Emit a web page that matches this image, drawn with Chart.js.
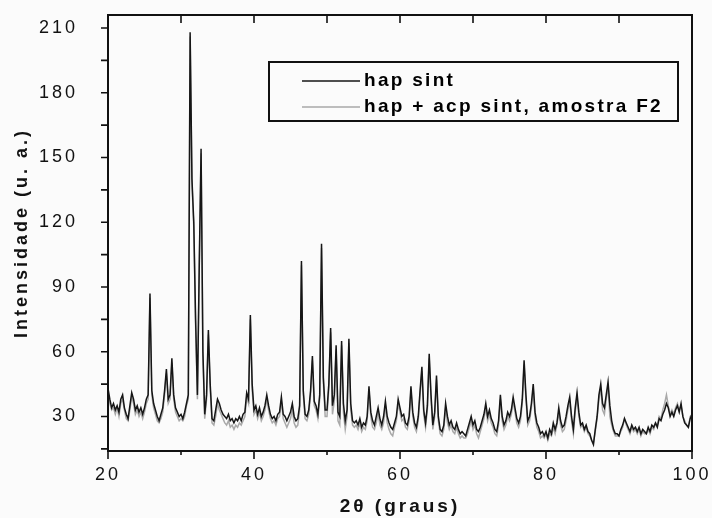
<!DOCTYPE html>
<html>
<head>
<meta charset="utf-8">
<script src="https://cdn.jsdelivr.net/npm/chart.js@4.4.1/dist/chart.umd.min.js"></script>
<style>
html, body { margin: 0; padding: 0; background: #fbfbfb; }
#caja { width: 712px; height: 518px; }
</style>
</head>
<body>
<div id="caja"><canvas id="graficoDRX" width="712" height="518"></canvas></div>
<script>
// Difratograma: 2θ de 20 a 100 graus, passo 0.25
const anguloInicial = 20;
const passoAngulo = 0.25;

// hap sint (preto)
const hapSint = [
  43,38,34,36,33,35,32,38,40,34,31,29,35,41,38,33,35,32,34,31, // 20
  34,38,40,87,42,36,33,30,28,31,34,42,52,38,40,57,40,34,32,30, // 25
  31,29,32,36,40,208,140,120,75,40,100,154,60,31,40,70,45,29,28,33, // 30
  38,36,33,31,30,29,31,28,29,27,29,28,30,28,31,32,41,38,77,45, // 35
  33,35,31,34,30,32,35,40,35,31,29,30,28,31,32,39,31,30,28,30, // 40
  32,36,30,28,29,35,102,42,31,30,33,42,58,37,35,31,40,110,48,33, // 45
  33,45,71,35,40,63,32,30,65,36,28,33,66,36,28,27,28,26,29,25, // 50
  27,26,30,44,32,28,26,30,34,29,26,30,37,30,27,25,24,27,30,38, // 55
  34,30,31,27,26,30,44,32,27,25,30,42,53,33,27,35,59,40,26,32, // 60
  49,30,24,23,26,36,30,26,28,25,24,27,24,22,23,22,21,24,27,30, // 65
  26,28,24,23,25,28,31,36,30,33,29,27,24,23,28,40,30,26,28,32, // 70
  30,33,39,34,29,27,30,38,56,40,28,30,36,45,32,27,25,22,23,21, // 75
  23,20,24,22,27,24,27,34,28,25,26,30,35,39,30,24,34,41,32,26, // 80
  27,24,26,23,22,19,17,24,30,40,45,36,34,40,46,35,28,24,22,22, // 85
  21,24,26,29,27,25,23,26,24,25,23,25,22,24,23,22,25,23,26,25, // 90
  27,25,29,28,31,33,36,34,30,32,30,33,35,32,36,30,27,26,25,29,31 // 95-100
];

// hap + acp sint, amostra F2 (cinza)
const hapAcpF2 = [
  41,36,33,34,31,34,30,36,38,33,29,28,33,39,36,31,33,30,32,29,
  32,36,38,85,40,34,31,28,27,29,32,40,50,36,38,55,38,32,30,28,
  29,28,30,35,38,206,138,118,72,38,98,152,58,29,38,68,43,27,26,30,
  36,33,31,29,27,26,28,25,26,24,26,25,27,26,28,30,39,36,75,42,
  31,33,29,32,28,30,33,38,33,29,27,28,26,29,30,37,29,27,25,27,
  29,33,27,25,26,33,100,40,29,28,31,40,56,35,33,29,38,108,46,30,
  30,43,69,31,37,61,28,26,63,32,24,30,64,33,26,25,26,24,27,23,
  25,24,28,42,30,25,24,27,32,26,24,27,35,27,24,22,21,25,28,36,
  32,28,29,25,24,28,42,30,25,23,28,40,51,31,25,33,57,38,24,30,
  47,28,22,21,24,34,27,24,26,23,22,25,22,20,21,20,20,22,25,28,
  24,26,22,20,23,26,29,34,28,31,27,25,22,21,26,38,28,24,26,30,
  28,31,37,32,27,25,28,36,54,38,26,28,34,43,30,25,23,20,21,20,
  22,19,22,21,25,22,26,32,26,23,24,28,33,37,28,22,32,39,30,25,
  26,23,25,22,21,19,18,23,29,38,43,33,31,38,44,30,26,23,21,21,
  21,23,25,29,26,24,22,25,23,24,22,24,21,23,22,22,24,22,25,24,
  27,26,30,29,33,36,40,35,31,33,31,34,36,33,35,30,28,26,25,30,31
];

const ticksX = [20, 40, 60, 80, 100];
const ticksY = [30, 60, 90, 120, 150, 180, 210];
const nomesSeries = ['hap sint', 'hap + acp sint, amostra F2'];
const coresSeries = ['#161616', '#a9a9a9'];

const angulos = hapSint.map((_, i) => anguloInicial + i * passoAngulo);
const pontos = arr => arr.map((v, i) => ({ x: angulos[i], y: v }));

const fonte = '"Liberation Sans", Arial, sans-serif';
Chart.defaults.font.family = fonte;
Chart.defaults.color = '#111';

// espaçamento de letras como no original
const espacado = {
  id: 'espacado',
  beforeDraw(chart) { chart.ctx.letterSpacing = '3px'; }
};

// moldura, marcas dos eixos e legenda dentro do gráfico
const moldura = {
  id: 'moldura',
  afterDraw(chart) {
    const { ctx, chartArea: a, scales: { x, y } } = chart;
    ctx.save();
    ctx.strokeStyle = '#111';
    ctx.lineWidth = 2;
    ctx.strokeRect(a.left, a.top, a.right - a.left, a.bottom - a.top);
    ctx.lineWidth = 1.6;
    ctx.beginPath();
    for (let v = 20; v <= 100; v += 10) {
      const px = x.getPixelForValue(v);
      const len = v % 20 === 0 ? 8 : 4;
      ctx.moveTo(px, a.bottom); ctx.lineTo(px, a.bottom + len);
      ctx.moveTo(px, a.top); ctx.lineTo(px, a.top + 8);
    }
    for (let v = 15; v <= 210; v += 15) {
      const py = y.getPixelForValue(v);
      ctx.moveTo(a.left, py); ctx.lineTo(a.left - 7, py);
    }
    ctx.stroke();

    // legenda
    const bx = a.left + 161, by = a.top + 47, bw = 409, bh = 59;
    ctx.lineWidth = 2;
    ctx.strokeRect(bx, by, bw, bh);
    ctx.font = 'bold 19px ' + fonte;
    ctx.letterSpacing = '2.3px';
    ctx.textBaseline = 'middle';
    ctx.fillStyle = '#000';
    nomesSeries.forEach((n, i) => {
      const ly = by + 19 + i * 26;
      ctx.strokeStyle = coresSeries[i];
      ctx.lineWidth = 1.5;
      ctx.beginPath();
      ctx.moveTo(bx + 33, ly); ctx.lineTo(bx + 91, ly);
      ctx.stroke();
      ctx.fillText(n, bx + 95, ly);
    });
    ctx.restore();
  }
};

new Chart(document.getElementById('graficoDRX'), {
  type: 'line',
  data: {
    datasets: [
      { label: nomesSeries[0], data: pontos(hapSint), borderColor: coresSeries[0], borderWidth: 1.5, pointRadius: 0, tension: 0 },
      { label: nomesSeries[1], data: pontos(hapAcpF2), borderColor: coresSeries[1], borderWidth: 1.5, pointRadius: 0, tension: 0 }
    ]
  },
  options: {
    responsive: false,
    animation: false,
    layout: { padding: { left: 0, top: 15, right: 20, bottom: 0 } },
    plugins: { legend: { display: false }, tooltip: { enabled: false } },
    scales: {
      x: {
        type: 'linear', min: 20, max: 100,
        grid: { display: false }, border: { display: false },
        afterBuildTicks: s => { s.ticks = ticksX.map(v => ({ value: v })); },
        afterFit: s => { s.height = 67; s.paddingLeft = 0; s.paddingRight = 0; },
        ticks: { padding: 5, maxRotation: 0, font: { size: 18 }, color: '#111' },
        title: { display: true, text: '2θ (graus)', font: { size: 19, weight: 'bold' }, color: '#111', padding: { top: 2, bottom: 0 } }
      },
      y: {
        min: 14, max: 216,
        grid: { display: false }, border: { display: false },
        afterBuildTicks: s => { s.ticks = ticksY.map(v => ({ value: v })); },
        afterFit: s => { s.width = 108; s.paddingTop = 0; s.paddingBottom = 0; },
        ticks: { padding: 22, font: { size: 18 }, color: '#111' },
        title: { display: true, text: 'Intensidade (u. a.)', font: { size: 18, weight: 'bold' }, color: '#111', padding: { top: 11, bottom: 0 } }
      }
    }
  },
  plugins: [espacado, moldura]
});
</script>
</body>
</html>
